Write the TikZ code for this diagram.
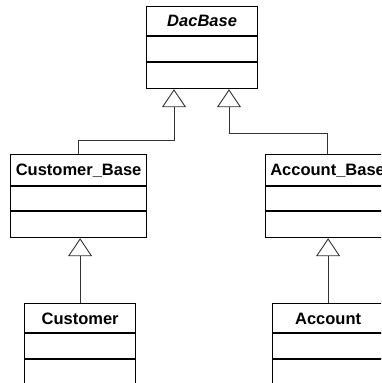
\documentclass[tikz,border=0pt]{standalone}
\usepackage{fontspec}
\setmainfont{Liberation Sans}
\usetikzlibrary{arrows.meta,calc}
\begin{document}
\begin{tikzpicture}[x=1pt,y=-1pt,
  classbox/.style={draw, line width=1.2pt, rectangle, inner sep=0pt, anchor=north west},
  divider/.style={line width=1.2pt},
  title/.style={anchor=base, inner sep=0pt, font=\fontsize{16.5}{20}\selectfont\bfseries},
  inherit/.style={draw=black!80, line width=0.9pt, -{Triangle[open, length=18pt, width=24pt]}}]
\useasboundingbox (0,0) rectangle (381,383);
\clip (0,0) rectangle (381,383);
% class boxes
\node[classbox, minimum width=111pt, minimum height=82pt] (dac) at (146,6) {};
\node[classbox, minimum width=136pt, minimum height=83pt] (cb) at (10,154) {};
\node[classbox, minimum width=124pt, minimum height=83pt] (ab) at (265,154) {};
\node[classbox, minimum width=111pt, minimum height=86pt] (cust) at (24,303) {};
\node[classbox, minimum width=111pt, minimum height=86pt] (acc) at (272,303) {};
% dividers
\draw[divider] ([yshift=-30pt]dac.north west) -- ([yshift=-30pt]dac.north east);
\draw[divider] ([yshift=-56pt]dac.north west) -- ([yshift=-56pt]dac.north east);
\draw[divider] ([yshift=-32pt]cb.north west) -- ([yshift=-32pt]cb.north east);
\draw[divider] ([yshift=-57pt]cb.north west) -- ([yshift=-57pt]cb.north east);
\draw[divider] ([yshift=-32pt]ab.north west) -- ([yshift=-32pt]ab.north east);
\draw[divider] ([yshift=-57pt]ab.north west) -- ([yshift=-57pt]ab.north east);
\draw[divider] ([yshift=-30pt]cust.north west) -- ([yshift=-30pt]cust.north east);
\draw[divider] ([yshift=-56pt]cust.north west) -- ([yshift=-56pt]cust.north east);
\draw[divider] ([yshift=-30pt]acc.north west) -- ([yshift=-30pt]acc.north east);
\draw[divider] ([yshift=-56pt]acc.north west) -- ([yshift=-56pt]acc.north east);
% titles
\node[title, font=\fontsize{16.5}{20}\selectfont\bfseries\itshape] (dact) at ([yshift=-20pt]dac.north) {DacBase};
\node[title] (cbt) at ([yshift=-21pt]cb.north) {Customer\_Base};
\node[title] (abt) at ([yshift=-21pt]ab.north) {Account\_Base};
\node[title] (custt) at ([yshift=-21pt]cust.north) {Customer};
\node[title] (acct) at ([yshift=-21pt]acc.north) {Account};
% generalisations
\draw[inherit] (cb.north) -- ++(0,-14) -| ($(dac.south west)+(28,0)$);
\draw[inherit] (ab.north) -- ++(0,-21) -| ($(dac.south west)+(83,0)$);
\draw[inherit] (cust.north) -- (cust.north |- cb.south);
\draw[inherit] (acc.north) -- (acc.north |- ab.south);
\end{tikzpicture}
\end{document}
